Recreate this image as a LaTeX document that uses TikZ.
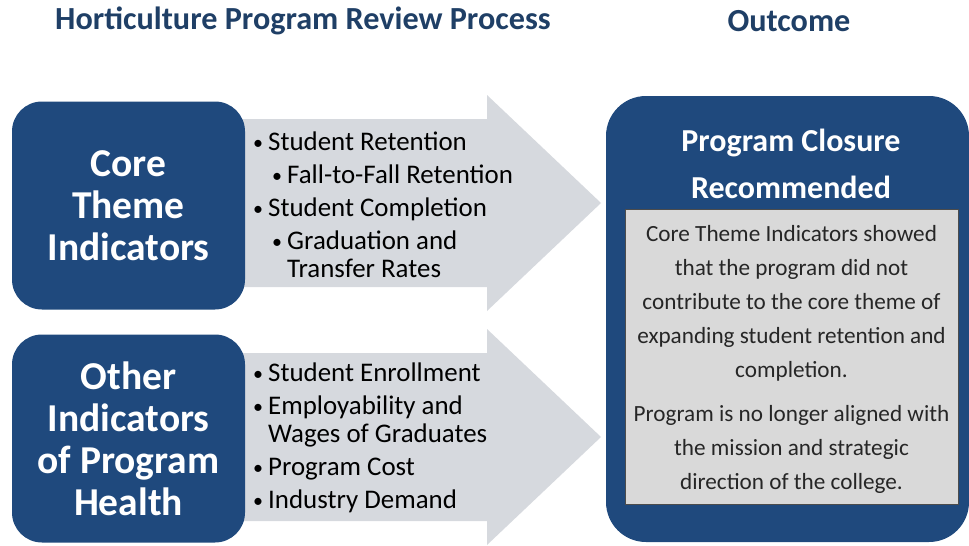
\documentclass[tikz,border=0pt]{standalone}
\usepackage{fontspec}
\setmainfont{Carlito}
\usetikzlibrary{positioning,calc}

\definecolor{navy}{HTML}{1F497D}
\definecolor{headblue}{HTML}{1F3F66}
\definecolor{arrowgray}{HTML}{D6D9DE}
\definecolor{panelgray}{HTML}{D9D9D9}

\newcommand{\bulletdot}{\raisebox{1pt}{\fontsize{20}{20}\selectfont\textbullet}}
\newcommand{\itm}[1]{\makebox[15pt][l]{\bulletdot}#1}
\newcommand{\subitm}[1]{\hspace{19pt}\makebox[15pt][l]{\bulletdot}#1}

\begin{document}
\begin{tikzpicture}[
  x=1pt,y=-1pt,
  heading/.style={text=headblue,font=\fontsize{32.2}{36}\selectfont\bfseries},
  theme/.style={fill=navy,rounded corners=30pt,minimum width=233pt,
    minimum height=208pt,text=white,align=center,
    font=\fontsize{39.5}{42}\selectfont\bfseries},
  bullets/.style={anchor=west,align=left,inner sep=0pt,
    font=\fontsize{26.9}{28}\selectfont},
  bigarrow/.style={fill=arrowgray}
]
  \useasboundingbox (0,0) rectangle (969,546);

  % headings
  \node[heading] (process) at (303,21) {Horticulture Program Review Process};
  \node[heading] (outcometitle) at (789,21) {Outcome};

  % block arrows behind the theme boxes
  \foreach \yc/\name in {203/arrowA,437/arrowB}{
    \fill[bigarrow] (235,\yc-84) -- (487,\yc-84) -- (487,\yc-108)
      -- (601,\yc) -- (487,\yc+108) -- (487,\yc+84) -- (235,\yc+84) -- cycle;
    \coordinate (\name) at (601,\yc);
  }

  % indicator boxes
  \node[theme] (core) at (128.5,205.5) {Core\\Theme\\Indicators};
  \node[theme] (other) at (128.5,438.5) {Other\\Indicators\\of Program\\Health};

  % bullet lists on the arrows
  \node[bullets] (corelist) at (253,205) {%
    \itm{Student Retention}\\[5pt]
    \subitm{Fall-to-Fall Retention}\\[5pt]
    \itm{Student Completion}\\[5pt]
    \subitm{Graduation and}\\
    \hspace{34pt}Transfer Rates};
  \node[bullets] (otherlist) at (253,438) {%
    \itm{Student Enrollment}\\[5pt]
    \itm{Employability and}\\
    \hspace{15pt}Wages of Graduates\\[5pt]
    \itm{Program Cost}\\[5pt]
    \itm{Industry Demand}};

  % outcome panel
  \node[fill=navy,rounded corners=40pt,minimum width=363pt,minimum height=446pt]
    (outcome) at (787.5,319) {};
  \node[text=white,align=center,font=\fontsize{32}{47}\selectfont\bfseries]
    (closure) at (791,164) {Program Closure\\Recommended};
  \node[fill=panelgray,draw=black!70,line width=0.8pt,minimum width=333pt,
    minimum height=295pt] (details) at (791.5,356.5) {};
  \node[align=center,text=black!85,font=\fontsize{23.2}{34}\selectfont]
    (reason) at ([yshift=-3pt]details.center)
    {Core Theme Indicators showed\\
     that the program did not\\
     contribute to the core theme of\\
     expanding student retention and\\
     completion.\\[10pt]
     Program is no longer aligned with\\
     the mission and strategic\\
     direction of the college.};
\end{tikzpicture}
\end{document}
